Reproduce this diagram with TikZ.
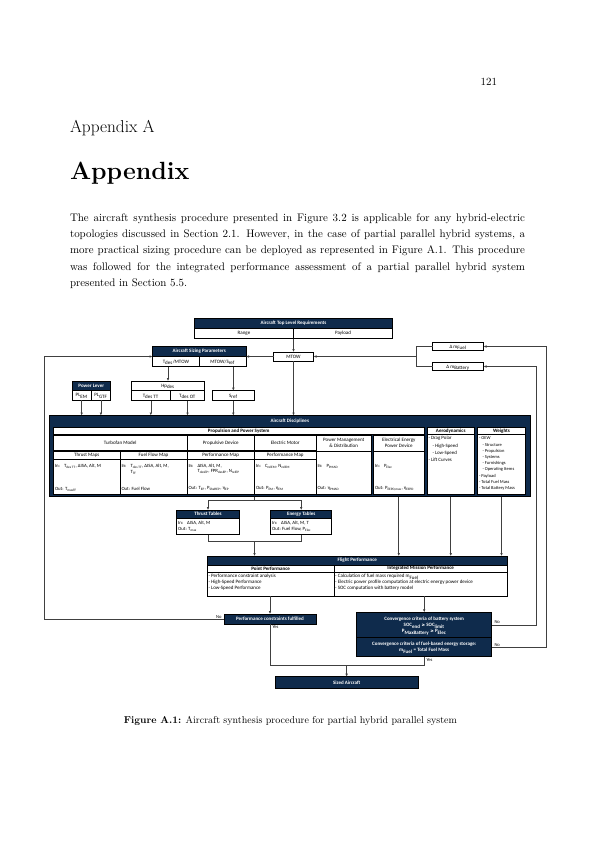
\documentclass[tikz,border=0pt]{standalone}
\usepackage{fontspec}
\usetikzlibrary{arrows.meta,calc}
\newfontfamily\dg{Carlito}
\newfontfamily\dv{DejaVu Sans}
\definecolor{navy}{HTML}{0F2B4C}
\newcommand\sbs[1]{\smash{\textsubscript{#1}}}
\newcommand\inl{\makebox[9pt][l]{In:}}
\newcommand\gq{{\dv\fontsize{4.2}{5}\selectfont ≥}}
\newcommand\B[7]{\node[#1,minimum width={#5-#3},minimum height={#6-#4}] (#2) at (#3,#4) {#7};}
\tikzset{
 every node/.style={inner sep=0pt, outer sep=0pt},
 hd/.style={draw=black, line width=0.5pt, fill=navy, text=white, align=center, font=\dg\bfseries\fontsize{5}{6}\selectfont, anchor=north west},
 cl/.style={draw=black, line width=0.5pt, fill=white, text=black, align=center, font=\dg\fontsize{5}{6}\selectfont, anchor=north west},
 io/.style={font=\dg\fontsize{4.8}{5.6}\selectfont, anchor=west, text=black},
 lst/.style={font=\dg\fontsize{4.8}{6}\selectfont, anchor=north west, align=left, text=black},
 conn/.style={draw=black!75, line width=0.6pt},
 arr/.style={conn, -{Latex[length=3pt,width=2.6pt]}},
 lbl/.style={font=\dg\fontsize{4.6}{5}\selectfont, text=black},
}
\begin{document}
\begin{tikzpicture}[x=1pt,y=-1pt]
\useasboundingbox (0,0) rectangle (595,842);
\fill[white] (0,0) rectangle (595,842);
% ---------- page text ----------
\node[anchor=base east, font=\fontsize{10.95}{13}\selectfont] (pgno) at (497,86) {121};
\node[anchor=base west, font=\fontsize{17.28}{21}\selectfont] (apa) at (70,133) {Appendix A};
\node[anchor=base west, font=\fontsize{24.88}{30}\selectfont\bfseries] (aptitle) at (70,180) {Appendix};
\node[anchor=north west, text width=455pt, align=justify, font=\fontsize{10.95}{16.3}\selectfont] (para) at (70,213.5) {The aircraft synthesis procedure presented in Figure 3.2 is applicable for any hybrid-electric\linebreak topologies discussed in Section 2.1. However, in the case of partial parallel hybrid systems, a\linebreak more practical sizing procedure can be deployed as represented in Figure A.1. This procedure\linebreak was followed for the integrated performance assessment of a partial parallel hybrid system\linebreak presented in Section 5.5.};
\node[anchor=base, font=\fontsize{10}{12}\selectfont] (cap) at (290.5,723.3) {\textbf{Figure A.1:} Aircraft synthesis procedure for partial hybrid parallel system};
% ---------- top level ----------
\B{hd}{tlr}{194.5}{318.5}{392.5}{328}{Aircraft Top Level Requirements}
\B{cl}{rng}{194.5}{328}{293.5}{338.5}{Range}
\B{cl}{pay}{293.5}{328}{392.5}{338.5}{Payload}
\B{cl}{mtow}{273.5}{352}{313.5}{361}{MTOW}
\draw[arr] (rng.south east) -- (mtow.north);
% sizing
\B{hd}{sp}{152.5}{346}{246}{356.5}{Aircraft Sizing Parameters}
\B{cl}{tdm}{152.5}{356.5}{199.25}{366.5}{T\sbs{des}/MTOW}
\B{cl}{mts}{199.25}{356.5}{246}{366.5}{MTOW/S\sbs{ref}}
\draw[arr] (mtow.west) -- (sp.south east);
% delta m
\B{cl}{dmf}{432.5}{342.5}{483.5}{350.5}{Δ m\sbs{Fuel}}
\B{cl}{dmb}{432.5}{362.5}{483.5}{370.5}{Δ m\sbs{Battery}}
\coordinate (br) at (416.7,356.5);
\draw[conn] (dmf.west) -| (br) |- (dmb.west);
\draw[arr] (br) -- (mtow.east);
% power lever
\B{hd}{pl}{72}{381.5}{110.5}{390.5}{Power Lever}
\B{cl}{plem}{72}{390.5}{91.3}{400}{PL\sbs{EM}}
\B{cl}{plg}{91.3}{390.5}{110.5}{400}{PL\sbs{GTF}}
% Hp
\B{cl}{hp}{131.3}{381}{204.7}{390.7}{Hp\sbs{des}}
\B{cl}{tt}{131.3}{390.7}{170.3}{400.5}{T\sbs{des TT}}
\B{cl}{ot}{170.3}{390.7}{204.7}{400.5}{T\sbs{des OT}}
\B{cl}{sref}{212.7}{390.7}{254}{400.5}{S\sbs{ref}}
\draw[arr] (hp.north |- tdm.south) -- (hp.north);
\draw[arr] (sref.north |- mts.south) -- (sref.north);
% ---------- disciplines ----------
\B{hd}{dis}{49.5}{415.5}{530}{496.5}{}
\node[font=\dg\bfseries\fontsize{5}{6}\selectfont, text=white] (distitle) at (289.75,421.5) {Aircraft Disciplines};
\foreach \n in {plem,plg,tt,ot,sref,mtow}{\draw[arr] (\n.south) -- (\n.south |- dis.north);}
\B{cl}{pps}{53.5}{427.3}{424}{434.3}{\bfseries Propulsion and Power System}
\B{cl}{aeh}{427}{427.3}{474.5}{434.3}{\bfseries Aerodynamics}
\B{cl}{aeb}{427}{434.3}{474.5}{494}{}
\B{cl}{weh}{477.5}{427.3}{525.5}{434.3}{\bfseries Weights}
\B{cl}{web}{477.5}{434.3}{525.5}{494}{}
% row 2
\B{cl}{tfm}{53.5}{435}{187}{450.7}{Turbofan Model}
\B{cl}{pdv}{187}{435}{254.5}{450.7}{Propulsive Device}
\B{cl}{emo}{254.5}{435}{316}{450.7}{Electric Motor}
\B{cl}{pmd}{316}{435}{371.5}{451.4}{Power Management\\\& Distribution}
\B{cl}{eep}{373.5}{435}{424}{451.4}{Electrical Energy\\Power Device}
% row 3
\B{cl}{thm}{53.5}{451.4}{120}{459.7}{Thrust Maps}
\B{cl}{ffm}{120}{451.4}{187}{459.7}{Fuel Flow Map}
\B{cl}{pdm}{187}{451.4}{254.5}{459.7}{Performance Map}
\B{cl}{emm}{254.5}{451.4}{316}{459.7}{Performance Map}
% row 4
\B{cl}{thio}{53.5}{459.7}{120}{494}{}
\B{cl}{ffio}{120}{459.7}{187}{494}{}
\B{cl}{pdio}{187}{459.7}{254.5}{494}{}
\B{cl}{emio}{254.5}{459.7}{316}{494}{}
\B{cl}{pmb}{316}{451.4}{371.5}{494}{}
\B{cl}{eeb}{373.5}{451.4}{424}{494}{}
% io texts
\node[io] (t1) at ($(thio.north west)+(1.5,6.3)$) {\inl T\sbs{des TT}, ΔISA, Alt, M};
\node[io] (t2) at ($(thio.north west)+(1.5,28.8)$) {Out: T\sbs{maxTF}};
\node[io] (t3) at ($(ffio.north west)+(1.5,6.3)$) {\inl T\sbs{des TT}, ΔISA, Alt, M,};
\node[io] (t4) at ($(ffio.north west)+(10.5,11.8)$) {T\sbs{TF}};
\node[io] (t5) at ($(ffio.north west)+(1.5,28.8)$) {Out: Fuel Flow};
\node[io] (t6) at ($(pdio.north west)+(1.5,6.3)$) {\inl ΔISA, Alt, M,};
\node[io] (t7) at ($(pdio.north west)+(10.5,11.8)$) {T\sbs{desEP}, FPR\sbs{desEP}, N\sbs{relEP}};
\node[io] (t8) at ($(pdio.north west)+(1.5,28.8)$) {Out: T\sbs{EP}, P\sbs{ShaftEP}, η\sbs{EP}};
\node[io] (t9) at ($(emio.north west)+(1.5,6.3)$) {\inl C\sbs{relEM}, N\sbs{relEM}};
\node[io] (t10) at ($(emio.north west)+(1.5,28.8)$) {Out: P\sbs{EM}, η\sbs{EM}};
\node[io] (t11) at ($(pmb.north west)+(1.5,14.6)$) {\inl P\sbs{PMAD}};
\node[io] (t12) at ($(pmb.north west)+(1.5,37.1)$) {Out: η\sbs{PMAD}};
\node[io] (t13) at ($(eeb.north west)+(1.5,14.6)$) {\inl P\sbs{Elec}};
\node[io] (t14) at ($(eeb.north west)+(1.5,37.1)$) {Out: P\sbs{EEPD,max}, η\sbs{EEPD}};
\node[lst, font=\dg\fontsize{4.9}{7.2}\selectfont] (aetx) at ($(aeb.north west)+(1.5,2.2)$) {- Drag Polar\\\hspace*{4pt}- High-Speed\\\hspace*{4pt}- Low-Speed\\- Lift Curves};
\node[lst, font=\dg\fontsize{4.5}{6.2}\selectfont] (wetx) at ($(web.north west)+(1.5,2.6)$) {- OEW\\\hspace*{3.5pt}- Structure\\\hspace*{3.5pt}- Propulsion\\\hspace*{3.5pt}- Systems\\\hspace*{3.5pt}- Furnishings\\\hspace*{3.5pt}- Operating Items\\- Payload\\- Total Fuel Mass\\- Total Battery Mass};
% ---------- tables ----------
\B{hd}{tth}{176.7}{510}{239.3}{518.5}{Thrust Tables}
\B{cl}{ttb}{176.7}{518.5}{239.3}{534.5}{}
\B{hd}{eth}{270.7}{510}{331.7}{518.5}{Energy Tables}
\B{cl}{etb}{270.7}{518.5}{331.7}{534.5}{}
\node[io] (t15) at ($(ttb.north west)+(1.5,4.3)$) {\inl ΔISA, Alt, M};
\node[io] (t16) at ($(ttb.north west)+(1.5,10.3)$) {Out: T\sbs{max}};
\node[io] (t17) at ($(etb.north west)+(1.5,4.3)$) {\inl ΔISA, Alt, M, T};
\node[io] (t18) at ($(etb.north west)+(1.5,10.3)$) {Out: Fuel Flow, P\sbs{Elec}};
\coordinate (j1) at (254.5,500);
\draw[conn] (j1 |- dis.south) -- (j1);
\draw[arr] (j1) -| (tth.north);
\draw[arr] (j1) -| (eth.north);
% ---------- flight performance ----------
\B{hd}{fp}{207.3}{556}{507.3}{565}{Flight Performance}
\B{cl}{pph}{207.3}{565}{334}{572}{\bfseries Point Performance}
\B{cl}{imh}{334}{565}{507.3}{572}{\bfseries Integrated Mission Performance}
\B{cl}{ppb}{207.3}{572}{334}{596}{}
\B{cl}{imb}{334}{572}{507.3}{596}{}
\node[lst, font=\dg\fontsize{5}{6}\selectfont] (pptx) at ($(ppb.north west)+(1.2,2.3)$) {- Performance constraint analysis\\- High-Speed Performance\\- Low-Speed Performance};
\node[lst, font=\dg\fontsize{5}{6}\selectfont] (imtx) at ($(imb.north west)+(1.2,2.3)$) {- Calculation of fuel mass required m\sbs{Fuel}\\- Electric power profile computation at electric energy power device\\- SOC computation with battery model};
\coordinate (j2) at (254.5,541);
\draw[conn] (ttb.south) |- (j2);
\draw[conn] (etb.south) |- (j2);
\draw[arr] (j2) -- (j2 |- fp.north);
\foreach \n in {eeb,aeb,web}{\draw[arr] (\n.south |- dis.south) -- (\n.south |- fp.north);}
% ---------- decisions ----------
\B{hd}{pc}{224}{614}{316}{624}{Performance constraints fulfilled}
\B{hd}{cb}{356.7}{612.3}{491.7}{637.3}{\fontsize{5}{7.5}\selectfont Convergence criteria of battery system\\SOC\sbs{end} \gq{} SOC\sbs{limit}\\P\sbs{MaxBattery} \gq{} P\sbs{Elec}}
\B{hd}{cf}{356.7}{637.3}{491.7}{656.7}{\fontsize{5}{7.4}\selectfont Convergence criteria of fuel-based energy storage:\\m\sbs{Fuel} = Total Fuel Mass}
\draw[arr] (pc.north |- ppb.south) -- (pc.north);
\draw[arr] (cb.north |- imb.south) -- (cb.north);
\B{hd}{sa}{275}{676.7}{418.3}{688.3}{Sized Aircraft}
\coordinate (j3) at (346.65,665);
\draw[conn] (pc.south) |- (j3);
\draw[conn] (cf.south) |- (j3);
\draw[arr] (j3) -- (sa.north);
% loops
\coordinate (lx) at (44,0);
\coordinate (rb) at (536.7,0);
\coordinate (rf) at (546.7,0);
\draw[arr] (pc.west) -- (pc.west -| lx) |- (sp.south west);
\draw[arr] (cb.east) -- (cb.east -| rb) |- (dmb.east);
\draw[arr] (cf.east) -- (cf.east -| rf) |- (dmf.east);
\node[lbl, anchor=south east] (no1) at (221.5,618.2) {No};
\node[lbl, anchor=north west] (yes1) at (272.5,625.3) {Yes};
\node[lbl, anchor=south west] (no2) at (494.5,624) {No};
\node[lbl, anchor=south west] (no3) at (494.5,646.2) {No};
\node[lbl, anchor=north west] (yes2) at (426.5,658.2) {Yes};
\end{tikzpicture}
\end{document}
